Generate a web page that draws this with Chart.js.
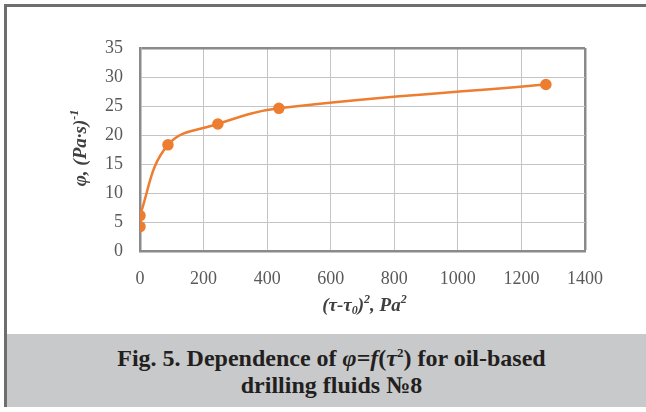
<!DOCTYPE html>
<html>
<head>
<meta charset="utf-8">
<script src="https://cdn.jsdelivr.net/npm/chart.js@4"></script>
<style>
	html, body {
		margin: 0;
		padding: 0;
		background: #fff;
	}
	#figure {
		position: absolute;
		left: 4px;
		top: 4px;
		width: 642px;
		height: 403px;
		border-left: 3px solid #6e6e6e;
		border-top: 3px solid #6e6e6e;
		border-bottom: 3px solid #6e6e6e;
		box-sizing: border-box;
	}
	#chart-box {
		position: relative;
		width: 639px;
		height: 327px;
	}
	#caption {
		position: absolute;
		left: 0;
		top: 327px;
		width: 639px;
		height: 73px;
		background: #c8c9cb;
		font-family: 'Liberation Serif', serif;
		font-weight: bold;
		font-size: 24px;
		line-height: 27px;
		color: #231f20;
		text-align: center;
		padding-top: 11px;
		padding-left: 10px;
		box-sizing: border-box;
	}
	#caption sup {
		font-size: 13px;
		line-height: 0;
		vertical-align: 9px;
	}
</style>
</head>
<body>
<div id="figure">
	<div id="chart-box"><canvas id="phi-chart"></canvas></div>
	<div id="caption">Fig. 5. Dependence of <i>φ</i>=<i>f</i>(<i>τ</i><sup>2</sup>) for oil-based<br>drilling fluids №8</div>
</div>
<script>
// data
const tauSquared = [0, 0, 88, 245, 437, 1277];
const phiValues = [4.2, 6.1, 18.3, 21.9, 24.6, 28.7];
const xTicks = [0, 200, 400, 600, 800, 1000, 1200, 1400];
const yTicks = [0, 5, 10, 15, 20, 25, 30, 35];

// axis titles, with sub / superscripts as separate pieces
const xTitle = [['(τ-τ', 0], ['0', 1], [')', 0], ['2', -1], [', Pa', 0], ['2', -1]];
const yTitle = [['φ, (Pa·s)', 0], ['-1', -1]];

const orange = '#ed7d31';
const gridLight = '#c4c4c4';
const gridDark = '#8a8a8a';
const serif = "'Liberation Serif', serif";

const phiCanvas = document.getElementById('phi-chart');

// draws a title made of pieces (0 = normal, -1 = sup, 1 = sub), centred on x
function drawPieces(ctx, pieces, cx, baseline) {
	const big = 'italic bold 19px ' + serif;
	const small = 'italic bold 12px ' + serif;
	let total = 0;
	pieces.forEach((p) => {
		ctx.font = p[1] === 0 ? big : small;
		total += ctx.measureText(p[0]).width;
	});
	let x = cx - total / 2;
	pieces.forEach((p) => {
		ctx.font = p[1] === 0 ? big : small;
		const dy = p[1] === -1 ? -8 : p[1] === 1 ? 3 : 0;
		ctx.fillText(p[0], x, baseline + dy);
		x += ctx.measureText(p[0]).width;
	});
}

const axisTitles = {
	id: 'axisTitles',
	afterDraw(chart) {
		const { ctx, chartArea } = chart;
		ctx.save();
		ctx.fillStyle = '#404040';
		ctx.textAlign = 'left';
		ctx.textBaseline = 'alphabetic';
		drawPieces(ctx, xTitle, (chartArea.left + chartArea.right) / 2 + 2, 304);
		ctx.translate(79, 141);
		ctx.rotate(-Math.PI / 2);
		drawPieces(ctx, yTitle, 0, 0);
		ctx.restore();
	},
};

const phiData = {
	datasets: [
		{
			data: tauSquared.map((x, i) => ({ x: x, y: phiValues[i] })),
			borderColor: orange,
			backgroundColor: orange,
			borderWidth: 2.5,
			pointRadius: 4.5,
			pointHoverRadius: 4.5,
			showLine: true,
			tension: 0.4,
		},
	],
};

const tickFont = {
	family: serif,
	size: 18,
};

const phiOptions = {
	responsive: true,
	maintainAspectRatio: false,
	animation: false,
	layout: {
		padding: { left: 60, top: 41, right: 61, bottom: 0 },
	},
	scales: {
		x: {
			type: 'linear',
			min: xTicks[0],
			max: xTicks[xTicks.length - 1],
			afterBuildTicks: (scale) => {
				scale.ticks = xTicks.map((v) => ({ value: v }));
			},
			afterFit: (scale) => {
				scale.height = 83;
			},
			grid: {
				drawTicks: false,
				color: (ctx) => (ctx.tick && ctx.tick.value === 1400 ? gridDark : gridLight),
				lineWidth: (ctx) => (ctx.tick && ctx.tick.value === 1400 ? 2.5 : 1),
			},
			border: { color: gridDark, width: 2.5 },
			ticks: {
				color: '#595959',
				font: tickFont,
				padding: 17,
				callback: (v) => String(v),
			},
		},
		y: {
			min: yTicks[0],
			max: yTicks[yTicks.length - 1],
			afterBuildTicks: (scale) => {
				scale.ticks = yTicks.map((v) => ({ value: v }));
			},
			afterFit: (scale) => {
				scale.width = 73;
			},
			grid: {
				drawTicks: false,
				color: (ctx) => (ctx.tick && ctx.tick.value === 35 ? gridDark : gridLight),
				lineWidth: (ctx) => (ctx.tick && ctx.tick.value === 35 ? 2.5 : 1),
			},
			border: { color: gridDark, width: 2.5 },
			ticks: {
				color: '#595959',
				font: tickFont,
				padding: 17,
				callback: (v) => String(v),
			},
		},
	},
	plugins: {
		legend: { display: false },
		tooltip: { enabled: false },
	},
};

const phiChart = new Chart(phiCanvas, {
	type: 'scatter',
	data: phiData,
	options: phiOptions,
	plugins: [axisTitles],
});
</script>
</body>
</html>
